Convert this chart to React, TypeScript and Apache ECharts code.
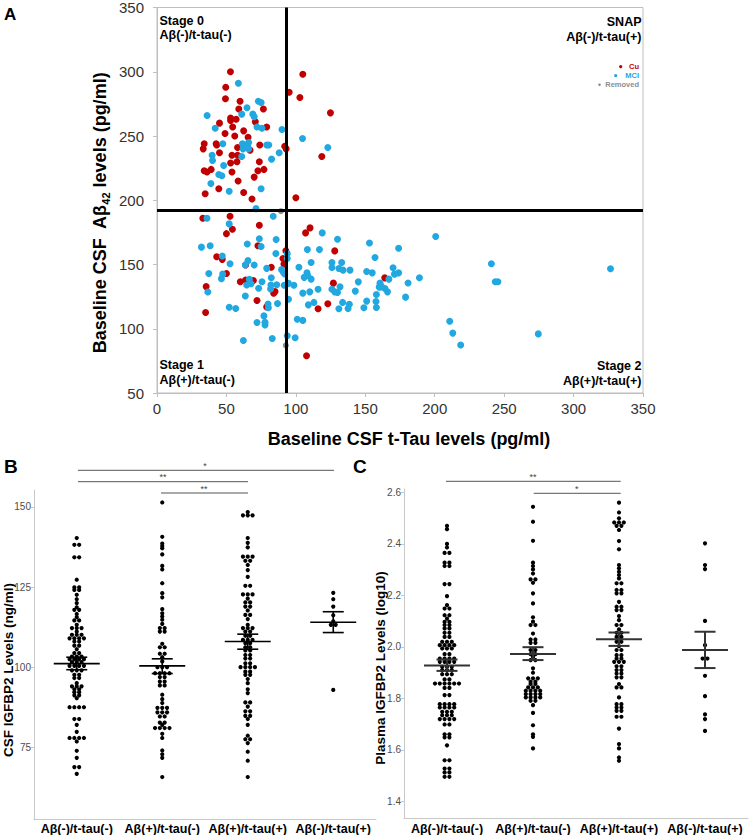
import React, { useEffect, useRef } from 'react';
import * as echarts from 'echarts';

// ---------- Panel A data (t-Tau, Aβ42) ----------
const cuPoints: number[][] = [
  [52.9, 300], [105, 298], [49.5, 288], [95.2, 284], [49.3, 279], [102.9, 280], [59.8, 277], [58.9, 271], [76.6, 271],
  [124.9, 268], [53, 264], [53, 262], [57, 263], [45, 260], [70.8, 261], [54.5, 257], [79, 257], [62.4, 254], [49, 252],
  [56, 250], [65.6, 249], [34, 244], [33.3, 240], [42.6, 244], [43, 243], [74, 243], [58, 241], [65, 242], [92, 242],
  [93, 240], [67, 239], [45, 237], [54, 235], [58, 235], [57.6, 230], [118.7, 234], [53, 229], [73.7, 230], [34, 223],
  [36, 222], [39, 224], [54, 222], [72.7, 223], [77, 224], [70, 218], [58.4, 215], [44.5, 209], [34.7, 205], [62.4, 206],
  [68.4, 201], [100, 202],
  [33, 186], [52.6, 187.6], [54.3, 177.5], [50, 174], [73.7, 180.6], [110.2, 178.5], [107, 174.6], [43, 156], [47, 154],
  [50, 143], [35.4, 132.8], [35, 112.6], [72.7, 164.6], [63.8, 149.6], [60, 136.6], [63.8, 138], [69.4, 137.5], [72, 122],
  [79, 117], [82.3, 147.8], [85, 128.9], [84, 127.6], [92.8, 160.7], [90.7, 154.7], [91.4, 150.3], [128, 160.6],
  [127, 135.5], [123, 119.4], [116, 115.5], [164, 139.6], [107.7, 79]
];
const mciPoints: number[][] = [
  [58.6, 291], [73, 277], [75, 276], [64.8, 272], [36.1, 266], [61, 267], [69, 267], [70, 265], [72, 257], [75.6, 256],
  [41.9, 256], [90, 255], [104.8, 248], [47.4, 244], [61.5, 244], [63, 243], [66, 245], [79, 243], [80.5, 243], [123, 241],
  [62, 240], [66, 240], [61, 234], [88, 237], [39.7, 235], [40, 231], [82.5, 232], [48, 227], [44.5, 220], [46.7, 219],
  [38.8, 213], [52, 207], [75, 209],
  [36, 186], [71.3, 193.5], [83.7, 187.6], [52, 181.6], [32, 163.5], [38.3, 164.6], [47, 156.6], [46.4, 139], [52.6, 150.6],
  [37.3, 143], [36.6, 128.6], [52, 116.7], [56.7, 115.7], [65, 165.9], [73.7, 170], [75, 164], [65.5, 153], [63.6, 149.6],
  [70, 149.6], [64.6, 134], [66.5, 138.5], [67.7, 135], [63.6, 125.5], [75.6, 136.6], [73.2, 131.5], [72, 104.8], [77, 110],
  [77.8, 105], [77.8, 103], [62.2, 90.9], [83, 92.4], [79, 147], [85.6, 158.6], [85.8, 169.5], [82.3, 139.7], [82, 134],
  [81.8, 131], [86.8, 119.6], [80, 119.2], [80.2, 116.3], [93.8, 158.6], [93.8, 154.7], [89.7, 146], [91, 144], [92, 142.6],
  [91.6, 133.8], [94.7, 135.3], [94.7, 123], [98.6, 133.8], [102.2, 147.8], [99.5, 93], [93.8, 94.5], [101, 107.4],
  [86.2, 134.2], [47.3, 142.5],
  [119, 174.6], [130, 169.7], [108.3, 161.6], [117, 161.6], [153, 166.8], [174, 162.7], [157, 155.4], [111, 151.5],
  [126, 151.5], [133, 151.5], [126, 147.6], [131, 146.9], [134, 145.6], [139, 145.6], [151, 144.5], [155, 143.5],
  [108, 143.5], [106, 140], [108.5, 141.5], [111, 138.6], [170, 147.4], [171, 142.5], [174, 143.5], [167, 138.6],
  [160.6, 135.5], [161.8, 132.6], [160, 132.4], [164.2, 131.3], [166, 128.7], [145, 136.5], [131.8, 132.6], [126, 130.8],
  [128, 128.7], [130, 128.2], [116, 130.8], [110, 128.7], [105, 127.7], [142.8, 129.3], [158, 126.7], [157.7, 121.2],
  [158, 116.6], [151, 121.5], [149, 116.3], [133.7, 120.5], [138.5, 119], [137.6, 115.8], [131, 115.5], [109, 118.6],
  [113, 120.5], [105, 106.5], [179, 124.6],
  [180.8, 135.6], [189, 139.7], [200.7, 171.8], [240.8, 150.6], [243.6, 136.6], [245.5, 136.6], [326.6, 146.7],
  [210.8, 105.9], [213, 96.6], [218.7, 87.3], [274.6, 96]
];
const removedPoints: number[][] = [[89.2, 191.5], [92.8, 87]];
const tauCutoff = 93;
const abetaCutoff = 192;

// ---------- Panels B & C ----------
const groupLabels = ['Aβ(-)/t-tau(-)', 'Aβ(+)/t-tau(-)', 'Aβ(+)/t-tau(+)', 'Aβ(-)/t-tau(+)'];

const csfStage0 = [140.3, 138.2, 138.2, 134.3, 134.3, 127.3, 124.9, 124.9, 124.1, 124.1, 122.6, 121.2, 120, 118.7, 117.9, 117.9,
  116.6, 115.6, 114.6, 114.6, 113.2, 112.2, 112.2, 112.2, 111.1, 110.1, 110.1, 110.1, 109, 109, 109, 109, 108, 108, 106.7, 106.7,
  105.6, 104.4, 104.4, 103.3, 103.3, 103.3, 102.5, 102.5, 102.5, 102.5, 101.6, 101.6, 101.6, 100.4, 100.4, 100.4, 100.4, 99, 99, 99,
  97.6, 97.6, 96.6, 96.6, 95, 94, 94, 94, 93.1, 93.1, 92.2, 92.2, 91.2, 91.2, 90.3, 87.5, 87.5, 87.5, 87.5, 83.8, 83.8, 82, 79.8,
  77.9, 77.9, 77.9, 77.9, 76.8, 73.9, 71.7, 68.8, 68.8, 66.7];
const csfStage1 = [151.4, 140.7, 138.6, 137.8, 137.1, 135.2, 131.6, 130.5, 126.2, 123.1, 121.8, 118.1, 116.8, 115.8, 114.8, 113.5,
  112.2, 112.2, 111.1, 111.1, 107.3, 106.2, 106.2, 104.2, 104.2, 103.1, 101.8, 100, 100, 100, 98.1, 98.1, 98.1, 98.1, 96.9, 96.9,
  95.5, 95.5, 94.3, 94.3, 91.4, 90, 88.8, 87.3, 87.3, 87.3, 85.9, 85.9, 85.9, 84.6, 84.6, 82.7, 82.7, 82, 81, 81, 81, 81, 79.2,
  77.9, 74, 72.8, 71.7, 65.7];
const csfStage2 = [148.4, 147.4, 147.4, 147.4, 140.3, 138.8, 137.4, 134.5, 134.5, 134.5, 133.2, 133.2, 131.9, 130.3, 128.2, 125.4,
  125.4, 122.7, 122.7, 122.7, 121.4, 120.2, 120.2, 118.9, 118.9, 117.7, 116.3, 116.3, 115, 113.2, 112.2, 112.2, 112.2, 111.1,
  111.1, 109.8, 109.8, 108.5, 108.5, 108.5, 107.5, 107.5, 106.2, 106.2, 105.2, 105.2, 103.8, 103.8, 102.7, 102.7, 101.2, 101.2,
  100, 100, 100, 100, 98.6, 98.6, 97.6, 97.6, 96.3, 95, 93.1, 91.9, 89, 89, 87.7, 86.2, 86.2, 84.8, 84.8, 83.8, 82, 78.6, 77.5,
  77.5, 76.3, 73.6, 70.8, 65.7];
const csfSnap = [123.2, 121.2, 118.9, 116.2, 114.3, 113.2, 113.2, 92.9];
const csfMean = [101.1, 100.4, 108.0, 114.0];
const csfSemLow = [99.2, 98.0, 105.6, 110.8];
const csfSemHigh = [103.1, 102.6, 110.3, 117.3];

const plStage0 = [2.470, 2.457, 2.400, 2.386, 2.365, 2.365, 2.327, 2.327, 2.314, 2.314, 2.244, 2.244, 2.197, 2.162, 2.149, 2.149,
  2.123, 2.123, 2.110, 2.097, 2.097, 2.085, 2.085, 2.072, 2.072, 2.055, 2.055, 2.039, 2.039, 2.020, 2.020, 2.020, 2.007, 2.007,
  2.007, 2.007, 1.994, 1.994, 1.994, 1.972, 1.972, 1.955, 1.955, 1.955, 1.955, 1.942, 1.942, 1.942, 1.942, 1.923, 1.923, 1.923,
  1.910, 1.910, 1.910, 1.894, 1.894, 1.894, 1.874, 1.874, 1.858, 1.858, 1.858, 1.858, 1.858, 1.858, 1.841, 1.841, 1.813, 1.813,
  1.778, 1.778, 1.778, 1.778, 1.765, 1.765, 1.765, 1.765, 1.748, 1.748, 1.748, 1.735, 1.735, 1.735, 1.720, 1.720, 1.720, 1.720,
  1.699, 1.699, 1.661, 1.661, 1.649, 1.649, 1.618, 1.560, 1.560, 1.528, 1.528, 1.513, 1.513, 1.496, 1.496];
const plStage1 = [2.544, 2.486, 2.412, 2.327, 2.314, 2.301, 2.285, 2.262, 2.262, 2.249, 2.208, 2.169, 2.115, 2.098, 2.085, 2.085,
  2.052, 2.029, 2.029, 2.016, 2.016, 1.988, 1.988, 1.972, 1.972, 1.962, 1.949, 1.949, 1.917, 1.900, 1.878, 1.878, 1.878, 1.865,
  1.865, 1.856, 1.856, 1.843, 1.843, 1.843, 1.830, 1.830, 1.830, 1.830, 1.817, 1.817, 1.817, 1.817, 1.804, 1.804, 1.804, 1.804,
  1.791, 1.791, 1.774, 1.744, 1.696, 1.661, 1.651, 1.606];
const plStage2 = [2.560, 2.522, 2.499, 2.483, 2.483, 2.483, 2.470, 2.470, 2.454, 2.411, 2.379, 2.318, 2.305, 2.292, 2.279, 2.266,
  2.247, 2.247, 2.221, 2.221, 2.208, 2.208, 2.175, 2.156, 2.156, 2.143, 2.143, 2.120, 2.104, 2.085, 2.085, 2.068, 2.055, 2.055,
  2.039, 2.039, 2.020, 2.020, 2.003, 1.988, 1.988, 1.968, 1.968, 1.955, 1.955, 1.942, 1.942, 1.942, 1.925, 1.925, 1.910, 1.910,
  1.897, 1.897, 1.882, 1.882, 1.856, 1.843, 1.843, 1.804, 1.778, 1.778, 1.765, 1.765, 1.752, 1.752, 1.729, 1.729, 1.683, 1.623,
  1.606, 1.571, 1.558];
const plSnap = [2.402, 2.318, 2.302, 2.101, 2.007, 1.955, 1.955, 1.888, 1.809, 1.738, 1.720, 1.674];
const plMean = [1.928, 1.973, 2.030, 1.988];
const plSemLow = [1.907, 1.949, 2.004, 1.918];
const plSemHigh = [1.951, 1.999, 2.056, 2.059];

const csfTicks = [75, 100, 125, 150];
const plTicks = [1.4, 1.6, 1.8, 2.0, 2.2, 2.4, 2.6];

const FONT = '"Liberation Sans", Arial, Helvetica, sans-serif';
const CU = '#c00000';
const MCI = '#22a8e0';
const GRAY = '#8c8c8c';

function swarm(groups: number[][]) {
  const out: number[][] = [];
  groups.forEach((vals, gi) => {
    const m = new Map<string, number[]>();
    vals.forEach((v) => {
      const k = v.toFixed(3);
      if (!m.has(k)) m.set(k, []);
      m.get(k)!.push(v);
    });
    m.forEach((arr) => {
      arr.forEach((v, i) => out.push([gi, v, i - (arr.length - 1) / 2]));
    });
  });
  return out;
}

function dotSeries(axisIdx: number, data: number[][]) {
  return {
    type: 'custom',
    xAxisIndex: axisIdx,
    yAxisIndex: axisIdx,
    data,
    encode: { x: 0, y: 1 },
    silent: true,
    renderItem: (_p: any, api: any) => {
      const p = api.coord([api.value(0), api.value(1)]);
      return {
        type: 'circle',
        shape: { cx: p[0] + api.value(2) * 4.8, cy: p[1], r: 2.1 },
        style: { fill: '#000' },
      };
    },
  };
}

function meanSeries(axisIdx: number, mean: number[], lo: number[], hi: number[], color: string, lw: number) {
  return {
    type: 'custom',
    xAxisIndex: axisIdx,
    yAxisIndex: axisIdx,
    data: mean.map((m, i) => [i, m, lo[i], hi[i]]),
    encode: { x: 0, y: [1, 2, 3] },
    silent: true,
    z: 5,
    renderItem: (_p: any, api: any) => {
      const ci = api.value(0);
      const pm = api.coord([ci, api.value(1)]);
      const pl = api.coord([ci, api.value(2)]);
      const ph = api.coord([ci, api.value(3)]);
      const x = pm[0];
      const st = { stroke: color, lineWidth: lw };
      return {
        type: 'group',
        children: [
          { type: 'line', shape: { x1: x - 23, y1: pm[1], x2: x + 23, y2: pm[1] }, style: st },
          { type: 'line', shape: { x1: x - 10.5, y1: pl[1], x2: x + 10.5, y2: pl[1] }, style: st },
          { type: 'line', shape: { x1: x - 10.5, y1: ph[1], x2: x + 10.5, y2: ph[1] }, style: st },
          { type: 'line', shape: { x1: x, y1: pl[1], x2: x, y2: ph[1] }, style: st },
        ],
      };
    },
  };
}

function txt(x: number, y: number, text: string, size: number, opts: any = {}) {
  return {
    type: 'text',
    x,
    y,
    rotation: opts.rotation || 0,
    silent: true,
    style: {
      text,
      fontSize: size,
      fontWeight: opts.weight || 'bold',
      fontFamily: FONT,
      fill: opts.fill || '#000',
      align: opts.align || 'left',
      verticalAlign: 'middle',
      rich: opts.rich,
    },
  };
}

function hline(x1: number, x2: number, y: number) {
  return { type: 'line', silent: true, shape: { x1, y1: y, x2, y2: y }, style: { stroke: '#555', lineWidth: 1 } };
}

export default function App() {
  const ref = useRef<HTMLDivElement>(null);
  useEffect(() => {
    const chart = echarts.init(ref.current!, null, { renderer: 'svg' });
    const lightAxis = { lineStyle: { color: '#c8c8c8', width: 1 } };
    const option: any = {
      animation: false,
      textStyle: { fontFamily: FONT },
      grid: [
        { left: 157, top: 7, width: 486, height: 386, show: true, borderColor: '#bfbfbf', borderWidth: 1, backgroundColor: 'transparent' },
        { left: 34, top: 490, width: 342, height: 329 },
        { left: 404, top: 489, width: 344, height: 329 },
      ],
      xAxis: [
        {
          type: 'value', gridIndex: 0, min: 0, max: 350, interval: 50,
          axisLine: { show: true, lineStyle: { color: '#bfbfbf' } },
          axisTick: { show: true, length: 4, lineStyle: { color: '#bfbfbf' } },
          axisLabel: { fontSize: 15, color: '#333', margin: 8, fontFamily: FONT },
          splitLine: { show: false },
        },
        {
          type: 'category', gridIndex: 1, data: groupLabels,
          axisLine: { show: true, ...lightAxis },
          axisTick: { show: false },
          axisLabel: { fontSize: 12.5, fontWeight: 'bold', color: '#000', margin: 3, interval: 0, fontFamily: FONT },
        },
        {
          type: 'category', gridIndex: 2, data: groupLabels,
          axisLine: { show: true, ...lightAxis },
          axisTick: { show: false },
          axisLabel: { fontSize: 12.5, fontWeight: 'bold', color: '#000', margin: 4, interval: 0, fontFamily: FONT },
        },
      ],
      yAxis: [
        {
          type: 'value', gridIndex: 0, min: 50, max: 350, interval: 50,
          axisLine: { show: true, lineStyle: { color: '#bfbfbf' } },
          axisTick: { show: true, length: 4, lineStyle: { color: '#bfbfbf' } },
          axisLabel: { fontSize: 15, color: '#333', margin: 13, fontFamily: FONT },
          splitLine: { show: false },
        },
        {
          type: 'value', gridIndex: 1, min: 52.6, max: 155.3,
          axisLine: { show: true, ...lightAxis },
          axisTick: { show: true, length: 3, customValues: csfTicks, lineStyle: { color: '#c8c8c8' } },
          axisLabel: { fontSize: 10, color: '#4d4d4d', margin: 3, customValues: csfTicks, fontFamily: FONT },
          splitLine: { show: false },
        },
        {
          type: 'value', gridIndex: 2, min: 1.336, max: 2.613,
          axisLine: { show: true, ...lightAxis },
          axisTick: { show: true, length: 3, customValues: plTicks, lineStyle: { color: '#c8c8c8' } },
          axisLabel: {
            fontSize: 10, color: '#4d4d4d', margin: 3, customValues: plTicks, fontFamily: FONT,
            formatter: (v: number) => v.toFixed(1),
          },
          splitLine: { show: false },
        },
      ],
      series: [
        {
          type: 'scatter', xAxisIndex: 0, yAxisIndex: 0, data: cuPoints, symbolSize: 7,
          itemStyle: { color: CU, opacity: 1 }, silent: true,
          markLine: {
            silent: true, symbol: 'none', label: { show: false },
            lineStyle: { color: '#000', width: 3, type: 'solid' },
            data: [{ xAxis: tauCutoff }, { yAxis: abetaCutoff }],
          },
        },
        { type: 'scatter', xAxisIndex: 0, yAxisIndex: 0, data: mciPoints, symbolSize: 7, itemStyle: { color: MCI, opacity: 1 }, silent: true },
        { type: 'scatter', xAxisIndex: 0, yAxisIndex: 0, data: removedPoints, symbolSize: 6, itemStyle: { color: GRAY, opacity: 1 }, silent: true },
        dotSeries(1, swarm([csfStage0, csfStage1, csfStage2, csfSnap])),
        meanSeries(1, csfMean, csfSemLow, csfSemHigh, '#000', 1.6),
        dotSeries(2, swarm([plStage0, plStage1, plStage2, plSnap])),
        meanSeries(2, plMean, plSemLow, plSemHigh, '#333', 2),
      ],
      graphic: [
        txt(4, 14.5, 'A', 17),
        txt(4, 466.5, 'B', 19),
        txt(353, 466.5, 'C', 19),
        // Panel A quadrant labels
        txt(159.5, 20.7, 'Stage 0', 12.5),
        txt(159.5, 35, 'Aβ(-)/t-tau(-)', 12.5),
        txt(641.5, 21.7, 'SNAP', 12.5, { align: 'right' }),
        txt(641.5, 36.7, 'Aβ(-)/t-tau(+)', 12.5, { align: 'right' }),
        txt(159.5, 365, 'Stage 1', 12.5),
        txt(159.5, 380, 'Aβ(+)/t-tau(-)', 12.5),
        txt(641.5, 365.7, 'Stage 2', 12.5, { align: 'right' }),
        txt(641.5, 381, 'Aβ(+)/t-tau(+)', 12.5, { align: 'right' }),
        // legend
        { type: 'circle', silent: true, shape: { cx: 620.7, cy: 66.7, r: 1.6 }, style: { fill: CU } },
        txt(639, 66.7, 'Cu', 7.5, { align: 'right', fill: CU }),
        { type: 'circle', silent: true, shape: { cx: 615.7, cy: 75.7, r: 1.6 }, style: { fill: MCI } },
        txt(639, 75.7, 'MCI', 7.5, { align: 'right', fill: MCI }),
        { type: 'circle', silent: true, shape: { cx: 599.5, cy: 84.7, r: 1.3 }, style: { fill: GRAY } },
        txt(639, 84.7, 'Removed', 7.5, { align: 'right', fill: GRAY }),
        // axis titles A
        txt(409, 439, 'Baseline CSF t-Tau levels (pg/ml)', 18, { align: 'center' }),
        txt(100, 213, '{a|Baseline CSF  Aβ}{s|42}{a| levels (pg/ml)}', 18, {
          align: 'center', rotation: Math.PI / 2,
          rich: {
            a: { fontSize: 18, fontWeight: 'bold', fontFamily: FONT, lineHeight: 22 },
            s: { fontSize: 11, fontWeight: 'bold', fontFamily: FONT, verticalAlign: 'bottom', lineHeight: 22 },
          },
        }),
        // axis titles B, C
        txt(8, 670, 'CSF IGFBP2 Levels (ng/ml)', 13.5, { align: 'center', rotation: Math.PI / 2 }),
        txt(380, 668, 'Plasma IGFBP2 Levels (log10)', 13.5, { align: 'center', rotation: Math.PI / 2 }),
        // significance B
        hline(78, 334, 470.3),
        txt(205, 465.5, '*', 9, { align: 'center', fill: '#444', weight: 'normal' }),
        hline(78, 248, 481.7),
        txt(163, 477, '**', 9, { align: 'center', fill: '#444', weight: 'normal' }),
        hline(161, 248, 493),
        txt(204, 488.5, '**', 9, { align: 'center', fill: '#444', weight: 'normal' }),
        // significance C
        hline(446, 620.7, 481.3),
        txt(533, 476.5, '**', 9, { align: 'center', fill: '#444', weight: 'normal' }),
        hline(533.7, 620.7, 493.3),
        txt(576.7, 488.5, '*', 9, { align: 'center', fill: '#444', weight: 'normal' }),
      ],
    };
    chart.setOption(option);
    return () => chart.dispose();
  }, []);
  return <div ref={ref} style={{ position: 'absolute', left: 0, top: 0, width: 750, height: 835, background: '#fff' }} />;
}
